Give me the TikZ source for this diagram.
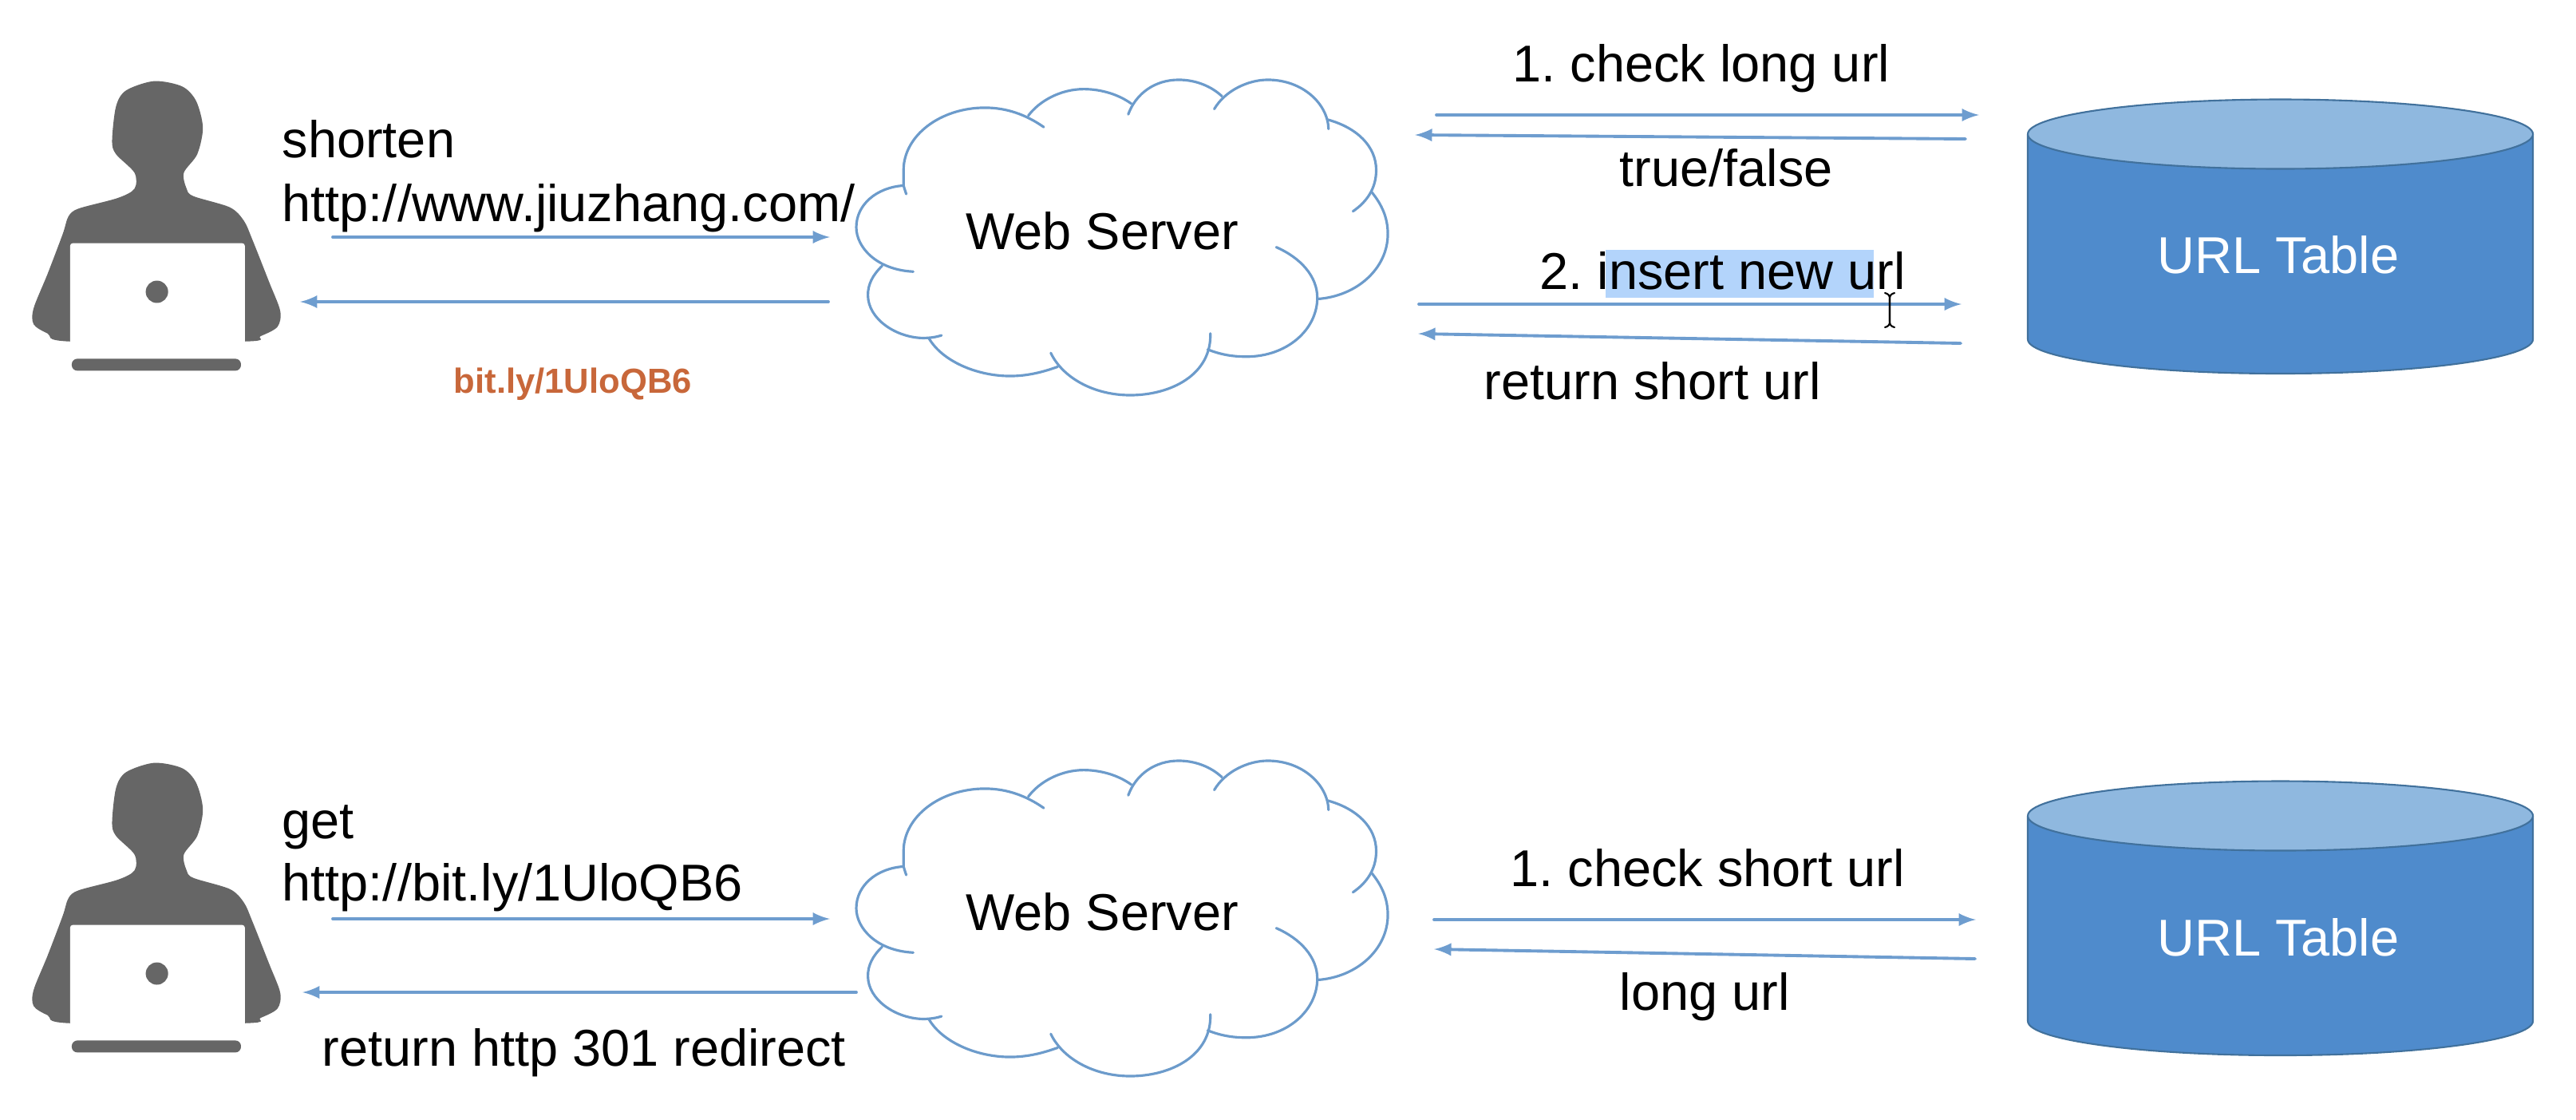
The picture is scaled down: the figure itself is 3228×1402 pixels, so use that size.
\documentclass[tikz,border=0pt]{standalone}
\usepackage{fontspec}
\setmainfont{Liberation Sans}
\usetikzlibrary{arrows}
\definecolor{flowline}{HTML}{6E9DCF}
\definecolor{cloudline}{HTML}{6C9BCB}
\definecolor{tablebody}{HTML}{4F8BCC}
\definecolor{tabletop}{HTML}{8FB8DF}
\definecolor{tableedge}{HTML}{41719C}
\definecolor{usergray}{HTML}{666666}
\definecolor{selblue}{HTML}{B3D4FB}
\definecolor{bitlyorange}{HTML}{C8673A}
\tikzset{
  lbl/.style={font=\fontsize{18.45}{22}\selectfont\frenchspacing,anchor=base west,inner sep=0pt},
  flow/.style={->,line width=1.1pt,color=flowline},
  pics/usericon/.style={code={
    \begin{scope}[x=0.00702cm,y=-0.00333cm]
    \fill[usergray] plot[smooth cycle,tension=0.5] coordinates {(275,125) (325,145) (350,200) (362,300) (352,400) (328,470) (333,530) (345,558) (410,600) (435,650) (450,720) (480,880) (500,990) (495,1050) (465,1085) (437,1105) (125,1105) (85,1075) (60,1040) (60,980) (85,850) (112,700) (122,635) (140,605) (210,565) (240,530) (240,470) (207,400) (200,350) (207,220) (225,160)};
    \fill[white,rounded corners=1pt] (125,735) rectangle (437,1125);
    \fill[usergray] (280,918) ellipse [x radius=20,y radius=42];
    \fill[usergray,rounded corners=2pt] (128,1170) rectangle (430,1215);
    \end{scope}
  }},
  pics/webcloud/.style={code={
    \begin{scope}[x=0.00485cm,y=-0.00333cm,line width=0.9pt,color=cloudline]
    \draw (197,490) .. controls (194,478) and (192,468) .. (190,458) .. controls (120,465) and (68,530) .. (68,615) .. controls (68,690) and (120,775) .. (215,782);
    \draw (135,760) .. controls (110,795) and (98,830) .. (98,870) .. controls (98,960) and (170,1030) .. (240,1032) .. controls (258,1032) and (275,1028) .. (288,1022);
    \draw (255,1032) .. controls (290,1120) and (380,1175) .. (465,1175) .. controls (510,1175) and (550,1160) .. (588,1140);
    \draw (570,1088) .. controls (600,1180) and (680,1247) .. (775,1247) .. controls (880,1247) and (985,1170) .. (982,1015);
    \draw (975,1075) .. controls (1010,1095) and (1040,1102) .. (1075,1102) .. controls (1180,1102) and (1258,1000) .. (1258,880) .. controls (1258,800) and (1215,730) .. (1152,690);
    \draw (1258,885) .. controls (1360,875) and (1440,770) .. (1440,640) .. controls (1440,580) and (1425,530) .. (1398,482);
    \draw (1350,555) .. controls (1385,520) and (1410,470) .. (1410,400) .. controls (1410,310) and (1360,240) .. (1285,210);
    \draw (1287,245) .. controls (1285,150) and (1220,60) .. (1130,60) .. controls (1080,60) and (1020,100) .. (992,170);
    \draw (1012,122) .. controls (985,85) and (945,60) .. (900,60) .. controls (840,60) and (790,110) .. (770,190);
    \draw (778,150) .. controls (745,115) and (700,95) .. (655,95) .. controls (595,95) and (540,140) .. (512,195);
    \draw (552,238) .. controls (505,190) and (455,165) .. (400,165) .. controls (285,165) and (190,270) .. (190,400) .. controls (190,420) and (190,440) .. (190,458);
    \end{scope}
  }},
  pics/urltable/.style={code={
    \draw[line width=0.6pt,color=tableedge,fill=tablebody] (-316.5,0) -- (-316.5,257) arc [start angle=180,end angle=0,x radius=316.5,y radius=43] -- (316.5,0) -- cycle;
    \draw[line width=0.6pt,color=tableedge,fill=tabletop] (0,0) ellipse [x radius=316.5,y radius=43.5];
  }}
}
\begin{document}
\begin{tikzpicture}[line cap=round,line join=round,>=latex,x=0.01cm,y=-0.01cm]
\useasboundingbox (0,0) rectangle (3228,1402);
% users
\pic (userA) at (0,60) {usericon};
\pic (userB) at (0,914) {usericon};
% clouds
\pic (cloudA) at (1040,80) {webcloud};
\pic (cloudB) at (1040,933) {webcloud};
\node[lbl] (serverA) at (1210,312) {Web Server};
\node[lbl] (serverB) at (1210,1165) {Web Server};
% tables
\pic (tableA) at (2857.5,168) {urltable};
\pic (tableB) at (2857.5,1022) {urltable};
\node[lbl,anchor=base,color=white] (tablelblA) at (2855,342) {URL Table};
\node[lbl,anchor=base,color=white] (tablelblB) at (2855,1197) {URL Table};
% end points of the arrows
\coordinate (shortS) at (417,297);
\coordinate (shortE) at (1040,297);
\coordinate (backS) at (1038,378);
\coordinate (backE) at (376,378);
\coordinate (checkS) at (1800,144);
\coordinate (checkE) at (2480,144);
\coordinate (trueS) at (2463,174);
\coordinate (trueE) at (1773,169);
\coordinate (insertS) at (1778,381);
\coordinate (insertE) at (2458,381);
\coordinate (returnS) at (2457,430);
\coordinate (returnE) at (1777,418);
\coordinate (getS) at (417,1151);
\coordinate (getE) at (1040,1151);
\coordinate (redirS) at (1073,1243);
\coordinate (redirE) at (379,1243);
\coordinate (checkBS) at (1797,1152);
\coordinate (checkBE) at (2476,1152);
\coordinate (longS) at (2475,1201);
\coordinate (longE) at (1797,1189);
\draw[flow] (shortS) -- (shortE);
\draw[flow] (backS) -- (backE);
\draw[flow] (checkS) -- (checkE);
\draw[flow] (trueS) -- (trueE);
\draw[flow] (insertS) -- (insertE);
\draw[flow] (returnS) -- (returnE);
\draw[flow] (getS) -- (getE);
\draw[flow] (redirS) -- (redirE);
\draw[flow] (checkBS) -- (checkBE);
\draw[flow] (longS) -- (longE);
% upper labels
\node[lbl] (shortenlbl) at (353,197) {shorten};
\node[lbl] (longurllbl) at (353,277) {http://www.jiuzhang.com/};
\node[anchor=base west,inner sep=0pt,color=bitlyorange,font=\fontsize{12.4}{15}\selectfont\bfseries] (bitlylbl) at (568,492) {bit.ly/1UloQB6};
\node[lbl] (checklbl) at (1895,102) {1. check long url};
\node[lbl] (truelbl) at (2029,233) {true/false};
\fill[selblue] (2012,313) rectangle (2348,373);
\node[lbl] (insertlbl) at (1929,362) {2. insert new url};
\node[lbl] (returnlbl) at (1859,500) {return short url};
% text cursor
\draw[line width=0.6pt,color=black] (2362,367) .. controls (2366,368) and (2368,370) .. (2368,374) -- (2368,403) .. controls (2368,407) and (2366,409) .. (2362,410);
\draw[line width=0.6pt,color=black] (2374,367) .. controls (2370,368) and (2368,370) .. (2368,374) -- (2368,403) .. controls (2368,407) and (2370,409) .. (2374,410);
% lower labels
\node[lbl] (getlbl) at (353,1050) {get};
\node[lbl] (shorturllbl) at (353,1128) {http://bit.ly/1UloQB6};
\node[lbl] (redirlbl) at (403,1335) {return http 301 redirect};
\node[lbl] (checkBlbl) at (1892,1110) {1. check short url};
\node[lbl] (longlbl) at (2029,1265) {long url};
\end{tikzpicture}
\end{document}
